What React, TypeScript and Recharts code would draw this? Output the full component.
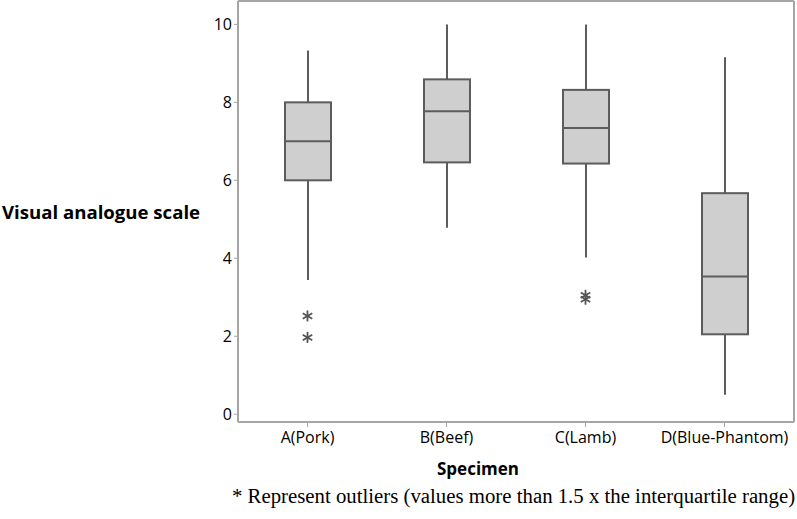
import React from "react";
import {
  Bar,
  ComposedChart,
  Scatter,
  XAxis,
  YAxis,
} from "recharts";

const specimens = ["A(Pork)", "B(Beef)", "C(Lamb)", "D(Blue-Phantom)"];
const whiskerLow = [3.44, 4.78, 4.02, 0.5];
const q1 = [6.0, 6.46, 6.43, 2.05];
const median = [7.0, 7.77, 7.34, 3.53];
const q3 = [8.0, 8.59, 8.32, 5.67];
const whiskerHigh = [9.33, 10.0, 10.0, 9.16];
const outlierA = [2.52, null, 3.05, null];
const outlierB = [1.97, null, 2.95, null];
const yTicks = [0, 2, 4, 6, 8, 10];

const data = specimens.map((name, i) => ({
  name,
  range: [whiskerLow[i], whiskerHigh[i]],
  low: whiskerLow[i],
  q1: q1[i],
  median: median[i],
  q3: q3[i],
  high: whiskerHigh[i],
  out1: outlierA[i],
  out2: outlierB[i],
}));

const STROKE = "#5c5c5c";
const FRAME = "#a6a6a6";
const FONT = "'Open Sans', 'Noto Sans', sans-serif";

function BoxShape(props: any) {
  const { x, y, width, height, payload } = props;
  const { low, high } = payload;
  const toY = (v: number) => y + (height * (high - v)) / (high - low);
  const cx = x + width / 2;
  return (
    <g>
      <line x1={cx} x2={cx} y1={toY(high)} y2={toY(payload.q3)} stroke={STROKE} strokeWidth={2} />
      <line x1={cx} x2={cx} y1={toY(payload.q1)} y2={toY(low)} stroke={STROKE} strokeWidth={2} />
      <rect
        x={x}
        y={toY(payload.q3)}
        width={width}
        height={toY(payload.q1) - toY(payload.q3)}
        fill="#cfcfcf"
        stroke={STROKE}
        strokeWidth={2}
      />
      <line x1={x} x2={x + width} y1={toY(payload.median)} y2={toY(payload.median)} stroke={STROKE} strokeWidth={2} />
    </g>
  );
}

function Star(props: any) {
  const { cx, cy } = props;
  if (cx == null || cy == null || isNaN(cy)) return <g />;
  const r = 5.5;
  const dx = r * Math.sin(Math.PI / 3);
  const dy = r * Math.cos(Math.PI / 3);
  return (
    <g stroke="#555" strokeWidth={1.8}>
      <line x1={cx} x2={cx} y1={cy - r} y2={cy + r} />
      <line x1={cx - dx} x2={cx + dx} y1={cy - dy} y2={cy + dy} />
      <line x1={cx - dx} x2={cx + dx} y1={cy + dy} y2={cy - dy} />
    </g>
  );
}

export default function App() {
  return (
    <div style={{ position: "fixed", left: 0, top: 0, width: 797, height: 519, background: "#fff" }}>
      <ComposedChart
        width={797}
        height={519}
        data={data}
        margin={{ top: 0, right: 0, bottom: 67, left: 0 }}
      >
        <XAxis
          dataKey="name"
          type="category"
          axisLine={{ stroke: FRAME, strokeWidth: 2 }}
          tickLine={{ stroke: FRAME }}
          tickSize={5}
          tickMargin={5}
          tick={{ fill: "#000", fontSize: 16, fontFamily: FONT }}
          height={30}
        />
        <XAxis xAxisId="top" orientation="top" dataKey="name" tick={false} tickLine={false} axisLine={{ stroke: FRAME, strokeWidth: 2 }} height={1} />
        <YAxis
          domain={[-0.2, 10.6]}
          ticks={yTicks}
          type="number"
          allowDataOverflow
          axisLine={{ stroke: FRAME, strokeWidth: 2 }}
          tickLine={{ stroke: FRAME }}
          tickSize={4}
          tick={{ fill: "#000", fontSize: 16, fontFamily: FONT }}
          width={238}
        />
        <YAxis yAxisId="right" orientation="right" tick={false} tickLine={false} axisLine={{ stroke: FRAME, strokeWidth: 2 }} width={3} />
        <Bar dataKey="range" barSize={46} shape={<BoxShape />} isAnimationActive={false} />
        <Scatter dataKey="out1" shape={<Star />} isAnimationActive={false} />
        <Scatter dataKey="out2" shape={<Star />} isAnimationActive={false} />
      </ComposedChart>
      <div style={{ position: "absolute", left: 2, top: 199, fontFamily: FONT, fontWeight: 700, fontSize: 18.6, color: "#000", whiteSpace: "nowrap" }}>
        Visual analogue scale
      </div>
      <div style={{ position: "absolute", left: 437, top: 457, fontFamily: FONT, fontWeight: 700, fontSize: 17, color: "#000", whiteSpace: "nowrap" }}>
        Specimen
      </div>
      <div style={{ position: "absolute", left: 232, top: 484, fontFamily: "'Liberation Serif', serif", fontSize: 20.8, color: "#000", whiteSpace: "nowrap" }}>
        * Represent outliers (values more than 1.5 x the interquartile range)
      </div>
    </div>
  );
}
